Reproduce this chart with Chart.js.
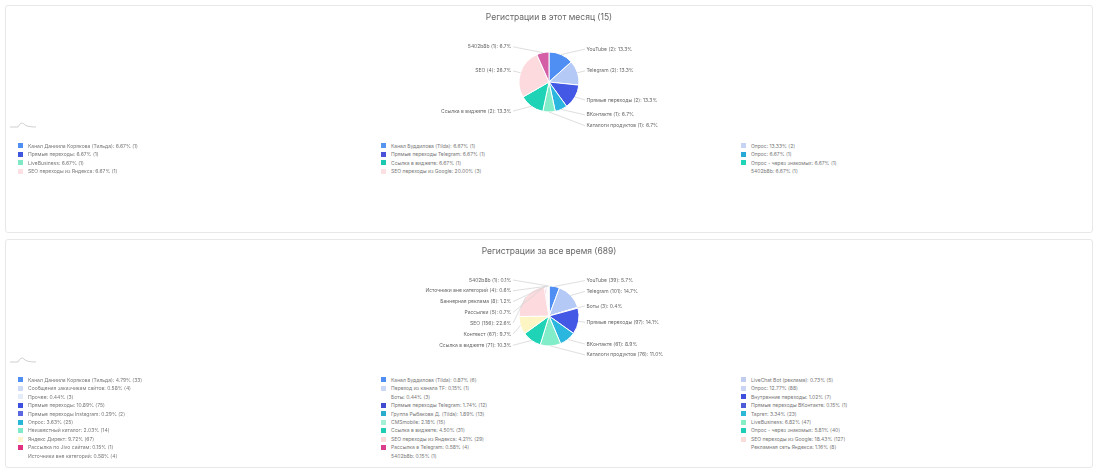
<!DOCTYPE html>
<html lang="ru">
<head>
<meta charset="utf-8">
<title>Регистрации</title>
<script src="https://cdn.jsdelivr.net/npm/chart.js@4/dist/chart.umd.min.js"></script>
<style>
  html, body { margin: 0; padding: 0; background: #fff; }
  body { width: 1098px; height: 474px; position: relative; overflow: hidden; font-family: 'Inter', sans-serif; }
  .panel { position: absolute; left: 5px; width: 1088px; box-sizing: border-box; border: 1px solid #e8e8e8; border-radius: 3px; background: #fff; }
  .chart-box { position: absolute; left: 0; top: 0; width: 1086px; height: 130px; }
  .spark { position: absolute; left: 4px; width: 26px; height: 10px; }
  .legend { position: absolute; top: 135.8px; left: 0; width: 1086px; }
  .legend-col { position: absolute; top: 0; }
  .legend-item { position: relative; height: 8.45px; line-height: 8.45px; font-size: 5px; color: #777; white-space: nowrap; padding-left: 10px; }
  .legend-item i { position: absolute; left: 0; top: 1.7px; width: 5px; height: 5px; }
</style>
</head>
<body>

<div class="panel" style="top:5px;height:228px;">
  <div class="chart-box"><canvas id="chart-month"></canvas></div>
  <svg class="spark" style="top:113px" viewBox="0 0 26 10"><path d="M0 8 L8 8 Q11 2 14 5 Q16 8 26 8" fill="none" stroke="#c4c4c4" stroke-width="0.8"/></svg>
  <div class="legend" id="legend-month"></div>
</div>

<div class="panel" style="top:239px;height:229px;">
  <div class="chart-box"><canvas id="chart-all"></canvas></div>
  <svg class="spark" style="top:114px" viewBox="0 0 26 10"><path d="M0 8 L8 8 Q11 2 14 5 Q16 8 26 8" fill="none" stroke="#c4c4c4" stroke-width="0.8"/></svg>
  <div class="legend" id="legend-all"></div>
</div>

<script>
'use strict';

/* ── Data: this month ── */
const monthTitle  = 'Регистрации в этот месяц (15)';
const monthTotal  = 15;
const monthCats   = ['YouTube', 'Telegram', 'Прямые переходы', 'ВКонтакте', 'Каталоги продуктов', 'Ссылка в виджете', 'SEO', '5402b8b'];
const monthCounts = [2, 2, 2, 1, 1, 2, 4, 1];

const monthSources = [
  'Канал Даниила Корякова (Тильда)', 'Прямые переходы', 'LiveBusiness', 'SEO переходы из Яндекса',
  'Канал Буддилова (Tilda)', 'Прямые переходы Telegram', 'Ссылка в виджете', 'SEO переходы из Google',
  'Опрос', 'Опрос', 'Опрос - через знакомых', '5402b8b',
];
const monthSourceCounts = [1, 1, 1, 1, 1, 1, 1, 3, 2, 1, 1, 1];

/* ── Data: all time ── */
const allTitle  = 'Регистрации за все время (689)';
const allTotal  = 689;
const allCats   = ['YouTube', 'Telegram', 'Боты', 'Прямые переходы', 'ВКонтакте', 'Каталоги продуктов', 'Ссылка в виджете', 'Контекст', 'SEO', 'Рассылки', 'Баннерная реклама', 'Источники вне категорий', '5402b8b'];
const allCounts = [39, 101, 3, 97, 61, 76, 71, 67, 156, 5, 8, 4, 1];

const allSources = [
  'Канал Даниила Корякова (Тильда)', 'Сообщения заказчикам сайтов', 'Прочее', 'Прямые переходы', 'Прямые переходы Instagram',
  'Опрос', 'Неизвестный каталог', 'Яндекс Директ', 'Рассылка по Jivo сайтам', 'Источники вне категорий',
  'Канал Буддилова (Tilda)', 'Переход из канала TF', 'Боты', 'Прямые переходы Telegram', 'Группа Рыбакова Д. (Tilda)',
  'CMSmobile', 'Ссылка в виджете', 'SEO переходы из Яндекса', 'Рассылка в Telegram', '5402b8b',
  'LiveChat Bot (реклама)', 'Опрос', 'Внутренние переходы', 'Прямые переходы ВКонтакте', 'Таргет',
  'LiveBusiness', 'Опрос - через знакомых', 'SEO переходы из Google', 'Рекламная сеть Яндекса',
];
const allSourceCounts = [33, 4, 3, 75, 2, 25, 14, 67, 1, 4, 6, 1, 3, 12, 13, 15, 31, 29, 4, 1, 5, 88, 7, 1, 23, 47, 40, 127, 8];

/* ── Colours ── */
const monthSliceColors = ['#4f8ef2', '#b4c9f6', '#4458e6', '#2ab6df', '#82eec9', '#1fd3b6', '#fcdade', '#d45fa7'];
const allSliceColors   = ['#4f8ef2', '#b4c9f6', '#eef3fc', '#4458e6', '#2ab6df', '#82eec9', '#1fd3b6', '#fdf5c4', '#fcdade', '#d94690', '#f4eef0', '#f6f1f2', '#f8f4f5'];

const monthSourceColors = [
  '#4f8ef2', '#3f55e0', '#7fe9c5', '#fde0e4',
  '#5595f0', '#4a52d9', '#1cc9b0', '#fde0e4',
  '#c5d4f5', '#26a9d6', '#20d4b8', 'transparent',
];
const allSourceColors = [
  '#4f8ef2', '#cfdcf7', '#e4ecfa', '#3d50e0', '#5a67e0', '#28b6d8', '#7eeac9', '#fdf6cc', '#e0307f', 'transparent',
  '#4f8ef2', '#c8d8f6', 'transparent', '#404bcf', '#2aaccc', '#a3f0d4', '#20cdb2', '#fbdada', '#d93d8c', 'transparent',
  '#c0cdf0', '#cad5f3', '#3f4fdd', '#4c5bd8', '#2bb8d6', '#86eec4', '#1ecdb5', '#fbdcd8', 'transparent',
];

const FONT = "'Inter', sans-serif";

/* ── Outside labels with leader lines ── */
const outerLabels = {
  id: 'outerLabels',
  afterDatasetsDraw(chart, args, opts) {
    const { ctx } = chart;
    const meta = chart.getDatasetMeta(0);
    const ds = chart.data.datasets[0];
    const labels = chart.data.labels;

    const items = meta.data.map((arc, i) => {
      const a = (arc.startAngle + arc.endAngle) / 2;
      const r = arc.outerRadius;
      return {
        i,
        cx: arc.x,
        r,
        // a slice centred exactly at the bottom goes to the right
        right: Math.cos(a) > -1e-6,
        ex: arc.x + Math.cos(a) * r,
        ey: arc.y + Math.sin(a) * r,
        y:  arc.y + Math.sin(a) * r * 1.2,
      };
    });

    [true, false].forEach(side => {
      const list = items.filter(it => it.right === side).sort((p, q) => p.y - q.y);
      let prev = -Infinity;
      list.forEach(it => {
        it.y = Math.max(it.y, prev + opts.gap);
        prev = it.y;
      });
    });

    ctx.save();
    ctx.font = `5px ${FONT}`;
    ctx.textBaseline = 'middle';
    items.forEach(it => {
      const val = ds.data[it.i];
      const text = `${labels[it.i]} (${val}): ${(val / opts.total * 100).toFixed(1)}%`;
      const lx = it.right ? it.cx + it.r + 6 : it.cx - it.r - 6;

      ctx.strokeStyle = '#d6d6d6';
      ctx.lineWidth = 0.8;
      ctx.beginPath();
      ctx.moveTo(it.ex, it.ey);
      ctx.lineTo(lx, it.y);
      ctx.stroke();

      ctx.fillStyle = '#666';
      ctx.textAlign = it.right ? 'left' : 'right';
      ctx.fillText(text, it.right ? lx + 1.5 : lx - 1.5, it.y);
    });
    ctx.restore();
  },
};

function makePie(id, title, cats, counts, colors, total) {
  const el = document.getElementById(id);
  if (!el) return;
  new Chart(el, {
    type: 'pie',
    data: {
      labels: cats,
      datasets: [{
        data: counts,
        backgroundColor: colors,
        borderColor: '#ffffff',
        borderWidth: 1,
        radius: 30,
      }],
    },
    options: {
      responsive: true,
      maintainAspectRatio: false,
      animation: false,
      layout: { padding: { bottom: 6 } },
      plugins: {
        legend: { display: false },
        tooltip: { enabled: false },
        title: {
          display: true,
          text: title,
          color: '#666',
          font: { family: FONT, size: 8.5, weight: 'normal' },
          padding: { top: 6.3, bottom: 11.5 },
        },
        outerLabels: { total, gap: 10.8 },
      },
    },
    plugins: [outerLabels],
  });
}

/* ── HTML legend, three columns ── */
const legendCols = [12, 375, 735];

function makeLegend(id, names, counts, colors, total) {
  const box = document.getElementById(id);
  if (!box) return;
  const perCol = Math.ceil(names.length / 3);
  legendCols.forEach((left, c) => {
    const col = document.createElement('div');
    col.className = 'legend-col';
    col.style.left = left + 'px';
    names.slice(c * perCol, (c + 1) * perCol).forEach((name, k) => {
      const i = c * perCol + k;
      const row = document.createElement('div');
      row.className = 'legend-item';
      row.innerHTML = `<i style="background:${colors[i]}"></i>${name}: ${(counts[i] / total * 100).toFixed(2)}% (${counts[i]})`;
      col.appendChild(row);
    });
    box.appendChild(col);
  });
}

makePie('chart-month', monthTitle, monthCats, monthCounts, monthSliceColors, monthTotal);
makePie('chart-all', allTitle, allCats, allCounts, allSliceColors, allTotal);
makeLegend('legend-month', monthSources, monthSourceCounts, monthSourceColors, monthTotal);
makeLegend('legend-all', allSources, allSourceCounts, allSourceColors, allTotal);
</script>
</body>
</html>
